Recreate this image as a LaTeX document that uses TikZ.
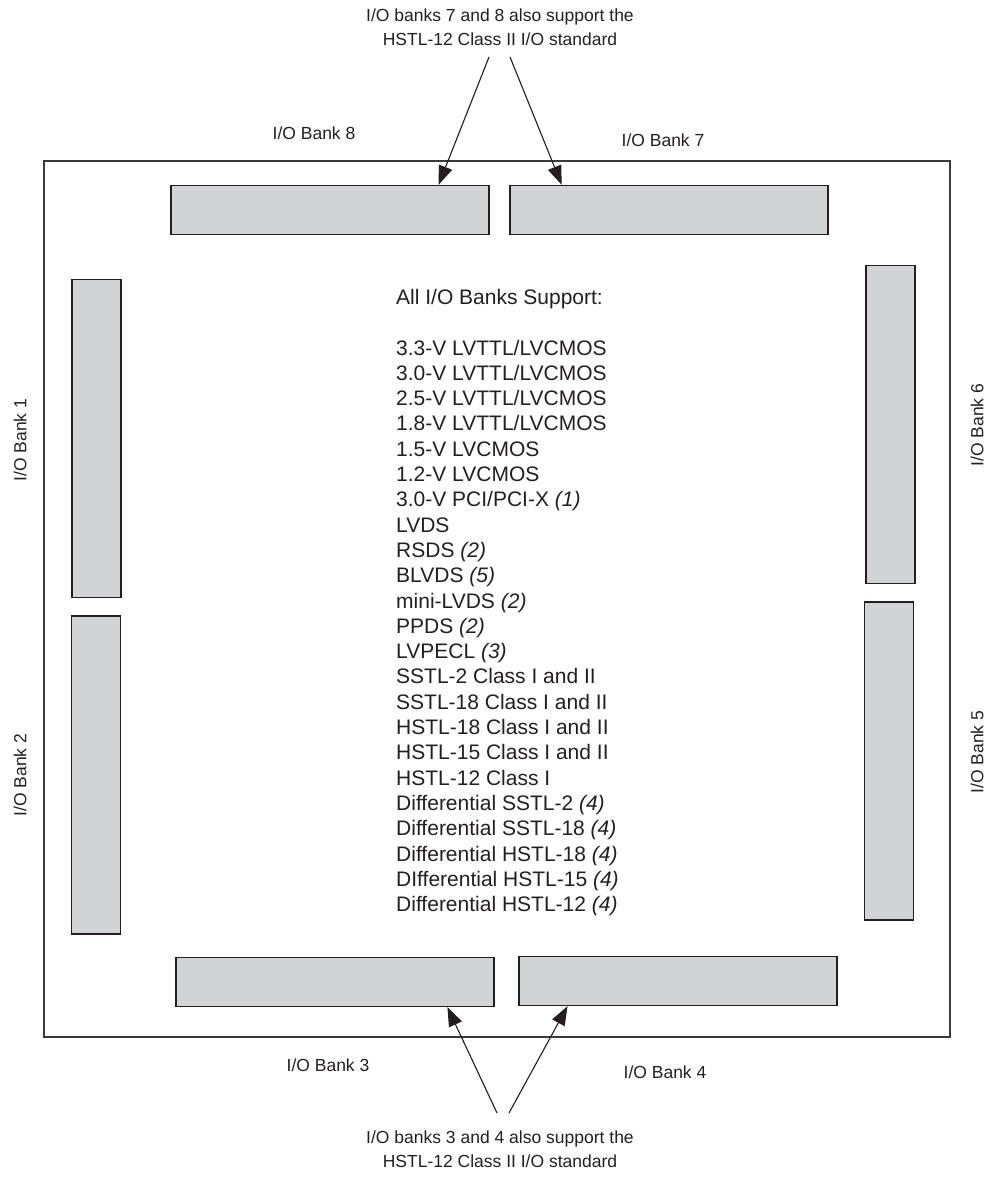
\documentclass[tikz,border=0pt]{standalone}
\usepackage{fontspec}
\setmainfont{Liberation Sans}
\usepackage{tikz}
\usetikzlibrary{arrows.meta,positioning,calc}
\definecolor{BankGray}{HTML}{D1D3D4}
\definecolor{EdgeGray}{HTML}{231F20}
\definecolor{ChipLine}{HTML}{3A3A3A}
\tikzset{
  chip/.style     = {draw=ChipLine, line width=1.4pt, inner sep=0pt},
  bankh/.style    = {draw=EdgeGray, fill=BankGray, line width=1.3pt, inner sep=0pt,
                     minimum width=318pt, minimum height=49pt},
  bankv/.style    = {draw=EdgeGray, fill=BankGray, line width=1.3pt, inner sep=0pt,
                     minimum width=49pt, minimum height=318pt},
  lbl/.style      = {font=\fontsize{17.5}{21}\selectfont, text=EdgeGray, inner sep=0pt},
  nota/.style     = {font=\fontsize{17.5}{24}\selectfont, text=EdgeGray, align=center, inner sep=0pt},
  lista/.style    = {font=\fontsize{21}{25.3}\selectfont, text=EdgeGray, align=left, inner sep=0pt},
  flecha/.style   = {-{Triangle[length=19pt,width=14pt]}, line width=1.1pt, draw=EdgeGray, fill=EdgeGray},
}
\begin{document}
\begin{tikzpicture}[x=1pt,y=-1pt]
  \useasboundingbox (0,0) rectangle (987,1190);
  % chip outline
  \node[chip, minimum width=906pt, minimum height=876pt] (C) at (497,599) {};
  % banks
  \node[bankh] (B8) at (330,210) {};
  \node[bankh] (B7) at (669,210) {};
  \node[bankv] (B1) at (96.5,438.5) {};
  \node[bankv] (B2) at (96,775) {};
  \node[bankv] (B6) at (890.5,424.5) {};
  \node[bankv] (B5) at (889,761) {};
  \node[bankh] (B3) at (335,982) {};
  \node[bankh] (B4) at (678,981) {};
  % bank labels
  \node[lbl] (L8) at (314,133) {I/O Bank 8};
  \node[lbl] (L7) at (663,140) {I/O Bank 7};
  \node[lbl] (L3) at (328,1065) {I/O Bank 3};
  \node[lbl] (L4) at (665,1072) {I/O Bank 4};
  \node[lbl, rotate=90] (L1) at (20,440) {I/O Bank 1};
  \node[lbl, rotate=90] (L2) at (20,775) {I/O Bank 2};
  \node[lbl, rotate=90] (L6) at (977,425) {I/O Bank 6};
  \node[lbl, rotate=90] (L5) at (977,752) {I/O Bank 5};
  % notes and arrows
  \node[nota] (N78) at (500,27) {I/O banks 7 and 8 also support the\\HSTL-12 Class II I/O standard};
  \node[nota] (N34) at (500,1149) {I/O banks 3 and 4 also support the\\HSTL-12 Class II I/O standard};
  \coordinate (a8) at (489,57);
  \coordinate (a7) at (510,57);
  \coordinate (a3) at (497,1113);
  \coordinate (a4) at (509,1113);
  \draw[flecha] (a8) -- ($(B8.north west)!0.84!(B8.north east)$);
  \draw[flecha] (a7) -- ($(B7.north west)!0.164!(B7.north east)$);
  \draw[flecha] (a3) -- ($(B3.south west)!0.852!(B3.south east)$);
  \draw[flecha] (a4) -- ($(B4.south west)!0.154!(B4.south east)$);
  % supported standards
  \node[lista, anchor=north west] (S) at (396,289) {All I/O Banks Support:\\[25.3pt]
    3.3-V LVTTL/LVCMOS\\
    3.0-V LVTTL/LVCMOS\\
    2.5-V LVTTL/LVCMOS\\
    1.8-V LVTTL/LVCMOS\\
    1.5-V LVCMOS\\
    1.2-V LVCMOS\\
    3.0-V PCI/PCI-X \textit{(1)}\\
    LVDS\\
    RSDS \textit{(2)}\\
    BLVDS \textit{(5)}\\
    mini-LVDS \textit{(2)}\\
    PPDS \textit{(2)}\\
    LVPECL \textit{(3)}\\
    SSTL-2 Class I and II\\
    SSTL-18 Class I and II\\
    HSTL-18 Class I and II\\
    HSTL-15 Class I and II\\
    HSTL-12 Class I\\
    Differential SSTL-2 \textit{(4)}\\
    Differential SSTL-18 \textit{(4)}\\
    Differential HSTL-18 \textit{(4)}\\
    DIfferential HSTL-15 \textit{(4)}\\
    Differential HSTL-12 \textit{(4)}};
\end{tikzpicture}
\end{document}
